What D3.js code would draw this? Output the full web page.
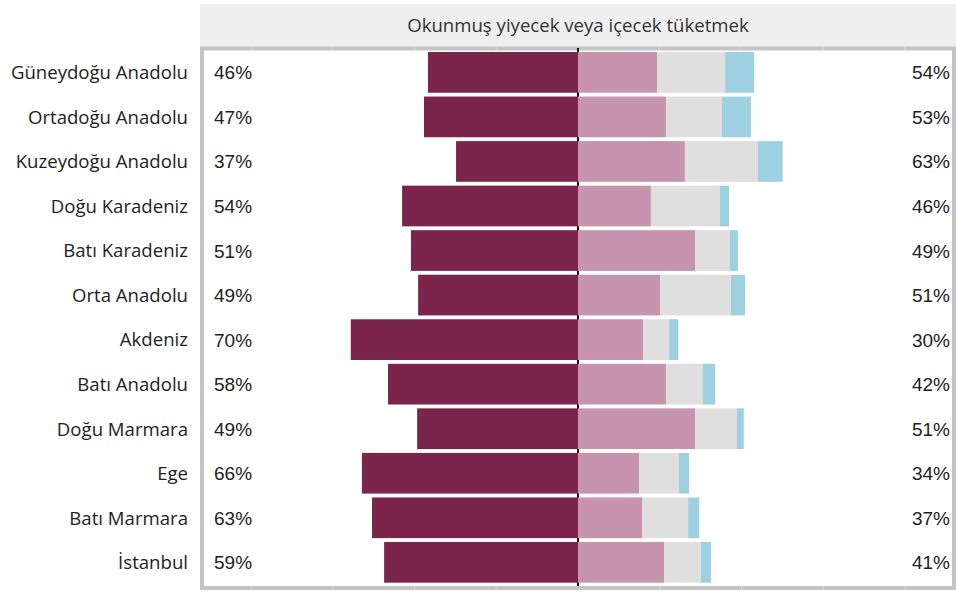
<!DOCTYPE html>
<html><head><meta charset="utf-8">
<script src="https://cdn.jsdelivr.net/npm/d3@7"></script>
<style>body{margin:0;background:#fff}svg{display:block}</style>
</head><body>
<svg id="c" width="956" height="592"></svg>
<script>
const title = "Okunmuş yiyecek veya içecek tüketmek";
const regions = ["Güneydoğu Anadolu","Ortadoğu Anadolu","Kuzeydoğu Anadolu","Doğu Karadeniz","Batı Karadeniz","Orta Anadolu","Akdeniz","Batı Anadolu","Doğu Marmara","Ege","Batı Marmara","İstanbul"];
const leftVals  = [45.9, 47.1, 37.3, 53.8, 51.1, 48.9, 69.5, 58.1, 49.2, 66.1, 63.0, 59.3];
const pinkVals  = [24.2, 26.9, 32.7, 22.3, 35.8, 25.1, 19.9, 26.9, 35.8, 18.7, 19.6, 26.3];
const grayVals  = [20.8, 17.1, 22.3, 21.1, 10.7, 21.7,  8.0, 11.3, 12.8, 12.2, 14.1, 11.3];
const blueVals  = [ 8.9,  8.9,  7.6,  2.8,  2.4,  4.3,  2.8,  3.7,  2.1,  3.1,  3.4,  3.1];
const leftLabels  = ["46%","47%","37%","54%","51%","49%","70%","58%","49%","66%","63%","59%"];
const rightLabels = ["54%","53%","63%","46%","49%","51%","30%","42%","51%","34%","37%","41%"];
const gridTicks = [-100,-75,-50,-25,25,50,75,100];
const colors = {left:"#7b254d", pink:"#c694ae", gray:"#dfdfdf", blue:"#9dd0e0"};

const svg = d3.select("#c");
const x = d3.scaleLinear().domain([-114.7,114.7]).range([203,953]);
const y = d3.scaleBand().domain(regions).range([50.1,584.6]).paddingInner(0.086).paddingOuter(0.043);

// header
svg.append("rect").attr("x",200).attr("y",4).attr("width",756).attr("height",43).attr("fill","#efefef");
svg.append("text").attr("x",x(0)).attr("y",32).attr("text-anchor","middle")
  .attr("font-family","'Open Sans'").attr("font-size",18.6).attr("fill","#333").text(title);

// panel
svg.append("rect").attr("x",202).attr("y",48.5).attr("width",752).attr("height",539.5)
  .attr("fill","#fff").attr("stroke","#c4c4c4").attr("stroke-width",4);

// center line
svg.append("line").attr("x1",x(0)).attr("x2",x(0)).attr("y1",48).attr("y2",586)
  .attr("stroke","#111").attr("stroke-width",2);

// grid hints
svg.append("g").selectAll("line").data(gridTicks).join("line")
  .attr("x1",d=>x(d)).attr("x2",d=>x(d)).attr("y1",46).attr("y2",590)
  .attr("stroke","#fff").attr("stroke-opacity",0.35).attr("stroke-width",1);

const rows = regions.map((r,i)=>({r, l:leftVals[i], segs:[
  {v:pinkVals[i], c:colors.pink},{v:grayVals[i], c:colors.gray},{v:blueVals[i], c:colors.blue}]}));

const g = svg.append("g");
g.selectAll("rect.l").data(rows).join("rect").attr("class","l")
  .attr("x",d=>x(-d.l)).attr("width",d=>x(0)-x(-d.l))
  .attr("y",d=>y(d.r)).attr("height",y.bandwidth()).attr("fill",colors.left);

rows.forEach(d=>{
  let acc=0;
  d.segs.forEach(s=>{
    g.append("rect").attr("x",x(acc)).attr("width",x(acc+s.v)-x(acc))
      .attr("y",y(d.r)).attr("height",y.bandwidth()).attr("fill",s.c);
    acc+=s.v;
  });
});

// category labels
svg.append("g").selectAll("text").data(regions).join("text")
  .attr("x",188).attr("y",d=>y(d)+y.bandwidth()/2+6.8).attr("text-anchor","end")
  .attr("font-family","'Open Sans'").attr("font-size",18.6).attr("fill","#222").text(d=>d);

// percent labels
svg.append("g").selectAll("text").data(regions).join("text")
  .attr("x",214).attr("y",d=>y(d)+y.bandwidth()/2+7).attr("text-anchor","start")
  .attr("font-family","'Liberation Sans', Arial").attr("font-size",19).attr("fill","#222")
  .text((d,i)=>leftLabels[i]);
svg.append("g").selectAll("text").data(regions).join("text")
  .attr("x",950).attr("y",d=>y(d)+y.bandwidth()/2+7).attr("text-anchor","end")
  .attr("font-family","'Liberation Sans', Arial").attr("font-size",19).attr("fill","#222")
  .text((d,i)=>rightLabels[i]);
</script>
</body></html>
